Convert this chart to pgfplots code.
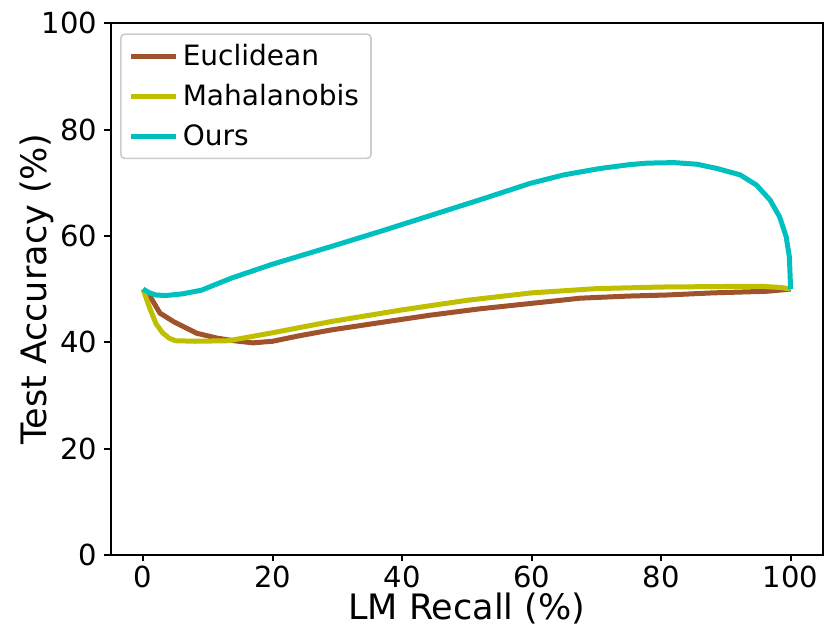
\documentclass[border=0pt]{standalone}
\usepackage{fontspec}
\setmainfont{DejaVu Sans}
\usepackage{pgfplots}
\pgfplotsset{compat=1.18}
\usetikzlibrary{calc}
\definecolor{cbrown}{HTML}{A0522D}
\definecolor{cyel}{HTML}{BFBF00}
\definecolor{ccyan}{HTML}{00BFBF}
\begin{document}
\begin{tikzpicture}
\begin{axis}[
  scale only axis, width=356.15pt, height=265.85pt,
  xmin=-5, xmax=105, ymin=0, ymax=100,
  xtick={0,20,...,100}, ytick={0,20,...,100},
  tick align=outside, major tick length=3.2pt,
  tick pos=left,
  axis line style={line width=1pt},
  every tick/.style={black, line width=1pt},
  tick label style={font=\fontsize{14.5}{17}\selectfont},
  xticklabel style={inner ysep=2pt},
  /pgf/number format/assume math mode=true,
  xlabel={LM Recall (\%)}, ylabel={Test Accuracy (\%)},
  label style={font=\fontsize{17.5}{20}\selectfont},
  xlabel style={at={(axis description cs:0.5,-0.101)}, anchor=center, inner sep=0pt},
  ylabel style={at={(axis description cs:-0.104,0.5)}, anchor=center},
  legend style={at={(axis description cs:0,1)}, anchor=north west, xshift=4.65pt, yshift=-5pt,
    draw=black!20, line width=0.8pt, rounded corners=2pt,
    font=\fontsize{14}{16}\selectfont, inner xsep=4pt, inner ysep=3pt, row sep=4pt,
    cells={anchor=west}},
  legend image code/.code={\draw[#1, line width=2.5pt] (0pt,0pt) -- (22.5pt,0pt);},
  every axis plot/.append style={line width=2.5pt, line join=round},
]
\addplot[cbrown] coordinates {
(0,50) (1.1,48.6) (2.6,45.5) (4.7,43.9) (8.3,41.7) (11.4,40.8) (14,40.3) (17,39.9) (20,40.2)
(24,41.2) (28.9,42.3) (36,43.6) (44.3,45.1) (52,46.3) (59.8,47.3) (67.5,48.3) (75,48.7)
(80.9,48.9) (88,49.3) (96.3,49.6) (100,50)};
\addlegendentry{Euclidean}
\addplot[cyel] coordinates {
(0,50) (1,46.5) (2,43.5) (3,41.8) (4,40.8) (5,40.3) (8,40.2) (13.2,40.3) (20,41.8) (29,43.9)
(40,46.1) (50,47.9) (60,49.3) (70,50.1) (80,50.4) (90,50.5) (96,50.5) (98.6,50.3) (100,50)};
\addlegendentry{Mahalanobis}
\addplot[ccyan] coordinates {
(0,50) (1,49.3) (2,48.9) (3.5,48.8) (6,49.1) (9,49.8) (13.7,52.1) (20,54.7) (29,58.0) (37,61.0)
(44.5,63.9) (52,66.8) (59.8,69.9) (65,71.5) (70.6,72.7) (75,73.4) (77.8,73.7) (82,73.8)
(85.5,73.5) (88.6,72.7) (92.2,71.5) (94.7,69.6) (96.8,66.8) (98.3,63.6) (99.3,59.9) (99.8,56.1) (100,50)};
\addlegendentry{Ours}
\end{axis}
\pgfresetboundingbox
\path ($(current axis.south west)+(-55.35pt,-38.5pt)$) rectangle ($(current axis.north east)+(2pt,11.65pt)$);
\end{tikzpicture}
\end{document}
